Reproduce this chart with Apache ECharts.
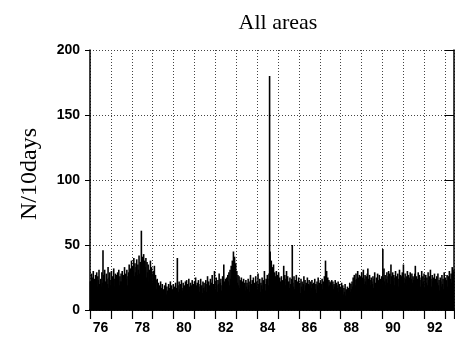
<!DOCTYPE html>
<html><head><meta charset="utf-8">
<script src="https://cdn.jsdelivr.net/npm/echarts@6/dist/echarts.min.js"></script>
<style>html,body{margin:0;padding:0;background:#fff}#c{width:455px;height:341px}</style>
</head><body><div id="c"></div>
<script>
// Counts per 10-day bin, one array per year (1975 starts mid-year, 1992 ends before year end)
const n1975 = [22,15,28,19,25,30,17,24,13,27,21,29,18,26,23,31,20];
const n1976 = [24,18,29,21,46,27,19,31,22,16,28,24,20,33,17,25,29,19,23,30,15,26,21,32,18,24,28,20,27,16,29,23,31,19,26,22,28];
const n1977 = [22,30,18,27,25,33,20,28,24,31,19,26,29,35,23,32,27,38,25,34,30,40,26,36,29,33,39,27,35,31,42,28,37,33,61,38];
const n1978 = [41,30,43,27,38,33,40,25,37,29,35,22,31,26,38,24,33,28,21,30,25,34,19,27,23,16,24,18,21,13,19,15,22,12,17,20,14];
const n1979 = [16,11,19,14,21,12,18,15,10,20,13,17,22,14,19,11,16,20,13,18,15,21,12,17,40,19,14,22,16,20,13,23,17,15,21,18];
const n1980 = [19,14,22,17,23,13,20,16,24,18,15,21,12,19,23,16,20,14,22,17,25,13,19,21,15,23,18,14,20,24,16,19,13,22,17,21,15];
const n1981 = [18,23,14,20,26,16,22,19,13,24,17,21,27,15,20,18,30,22,16,25,19,14,23,20,28,17,21,24,15,19,26,18,35,22,17,24];
const n1982 = [20,25,18,27,22,29,19,31,24,34,26,38,30,45,33,41,28,36,24,30,21,27,19,26,17,23,16,25,20,22,16,24,19,21,15,23,18];
const n1983 = [21,16,24,19,14,22,27,17,20,23,15,25,18,21,13,26,19,22,16,28,20,17,24,14,21,19,25,16,23,18,30,20,15,24,22,27];
const n1984 = [24,19,28,180,45,30,38,27,33,24,35,22,29,26,20,30,24,27,21,29,19,25,22,18,26,20,23,17,34,22,27,19,24,30,21,26,18];
const n1985 = [22,17,25,20,15,24,50,21,18,26,16,23,19,27,14,22,20,25,17,21,13,24,18,22,16,20,26,15,23,19,21,14,25,18,20,23];
const n1986 = [19,14,22,17,23,20,15,21,18,24,16,20,13,22,19,25,17,21,15,23,18,20,24,16,22,19,26,21,38,24,30,20,25,18,23,19,22];
const n1987 = [21,17,23,19,22,16,20,18,23,15,21,19,17,22,14,20,16,18,13,21,15,19,12,17,14,20,11,16,13,18,12,17,15,21,14,20];
const n1988 = [16,22,18,25,20,27,23,19,28,24,21,30,25,22,27,20,26,23,29,21,25,31,24,20,27,22,26,19,28,32,24,21,27,23,19,25,22];
const n1989 = [20,26,17,24,29,21,18,25,22,28,19,23,27,16,24,21,26,20,47,25,32,22,27,19,24,29,21,26,30,23,28,20,35,26,24,29];
const n1990 = [22,27,19,25,30,21,26,23,28,18,24,31,22,27,20,26,29,23,35,25,21,28,24,19,26,30,22,27,20,25,29,18,24,28,21,26,23];
const n1991 = [25,28,34,22,26,19,24,29,21,27,23,18,25,30,20,26,22,28,17,24,27,21,25,19,29,23,26,20,31,24,18,27,22,25,21,28];
const n1992 = [20,24,17,26,21,28,19,23,15,25,22,18,27,20,24,16,29,21,25,19,23,27,18,26,22,30,20,24,28,21,33,25,29,31];

const fullYears = [
  [1976,n1976],[1977,n1977],[1978,n1978],[1979,n1979],[1980,n1980],[1981,n1981],
  [1982,n1982],[1983,n1983],[1984,n1984],[1985,n1985],[1986,n1986],[1987,n1987],
  [1988,n1988],[1989,n1989],[1990,n1990],[1991,n1991]
];
const xLabelYears = [1976,1978,1980,1982,1984,1986,1988,1990,1992];

const BIN = 10/365.25;
const data = [];
n1975.forEach((v,j)=>data.push([1975.52 + j*BIN, v]));
fullYears.forEach(([y,arr])=>arr.forEach((v,j)=>data.push([y + (j+0.5)/arr.length, v])));
n1992.forEach((v,j)=>data.push([1992 + (j+0.5)*BIN, v]));

const XMIN = 1975.5, XMAX = 1992.92;
const sans = 'Liberation Sans', serif = 'Liberation Serif';
const dotted = {color:'#444', width:1, type:[1,2]};

const chart = echarts.init(document.getElementById('c'), null, {renderer:'canvas'});
chart.setOption({
  animation:false,
  backgroundColor:'#fff',
  title:{text:'All areas', left:273, top:7, textAlign:'center',
    textStyle:{fontFamily:serif, fontSize:22, fontWeight:'normal', color:'#000'}},
  graphic:[{type:'text', x:30, y:174, rotation:Math.PI/2,
    style:{text:'N/10days', font:'24px "Liberation Serif"', fill:'#000', align:'center', verticalAlign:'middle'}}],
  grid:{left:90, right:1, top:50, bottom:31, containLabel:false},
  xAxis:[
    {type:'value', position:'bottom', min:XMIN, max:XMAX, interval:1,
     axisLine:{show:true, lineStyle:{color:'#000', width:1.5}},
     axisTick:{show:false},
     axisLabel:{show:true, customValues:xLabelYears, formatter:v=>String(Math.round(v)).slice(2),
       fontFamily:sans, fontWeight:'bold', fontSize:14, color:'#000', margin:11},
     splitLine:{show:true, lineStyle:dotted}},
    {type:'value', position:'top', min:XMIN, max:XMAX, interval:1,
     axisLine:{show:true, lineStyle:{color:'#000', width:1.5}},
     axisTick:{show:true, inside:true, length:9, lineStyle:{color:'#000', width:1.2}},
     axisLabel:{show:false}, splitLine:{show:false}}
  ],
  yAxis:[
    {type:'value', position:'left', min:0, max:200, interval:50,
     axisLine:{show:true, lineStyle:{color:'#000', width:1.5}},
     axisTick:{show:true, inside:false, length:5, lineStyle:{color:'#000'}},
     axisLabel:{fontFamily:sans, fontWeight:'bold', fontSize:14, color:'#000', margin:10},
     splitLine:{show:true, lineStyle:dotted}},
    {type:'value', position:'right', min:0, max:200, interval:50,
     axisLine:{show:true, lineStyle:{color:'#000', width:1.5}},
     axisTick:{show:true, inside:true, length:9, lineStyle:{color:'#000'}},
     axisLabel:{show:false}, splitLine:{show:false}}
  ],
  series:[{type:'bar', xAxisIndex:0, yAxisIndex:0, data:data, barWidth:1.6,
    itemStyle:{color:'#000'}, silent:true}]
});
</script></body></html>
